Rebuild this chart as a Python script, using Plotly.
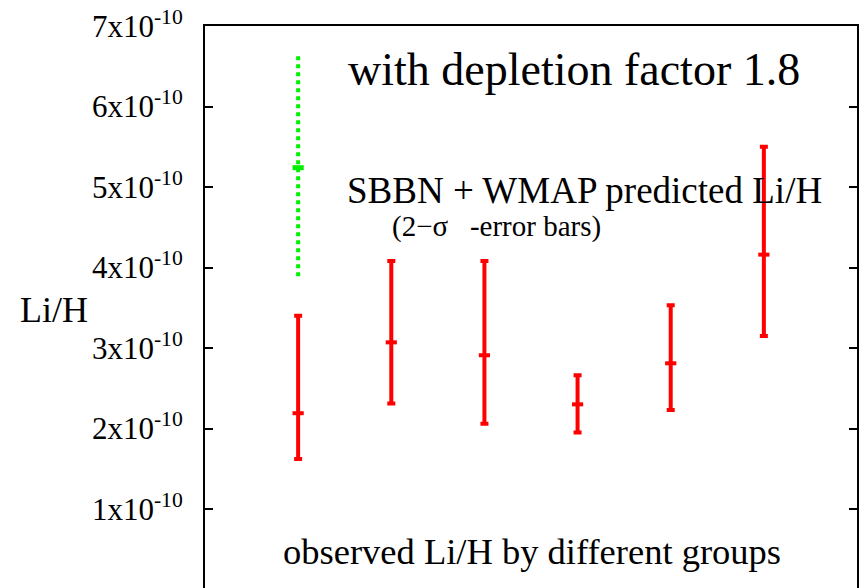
import plotly.graph_objects as go

# ---- data (values of Li/H) ----
groups = [1, 2, 3, 4, 5, 6]
obs_center = [2.19e-10, 3.07e-10, 2.91e-10, 2.30e-10, 2.81e-10, 4.16e-10]
obs_high = [3.40e-10, 4.08e-10, 4.08e-10, 2.66e-10, 3.53e-10, 5.50e-10]
obs_low = [1.62e-10, 2.31e-10, 2.06e-10, 1.95e-10, 2.23e-10, 3.15e-10]

pred_x = [1]
pred_center = [5.24e-10]
pred_high = [6.66e-10]
pred_low = [3.89e-10]

ytick_vals = [1e-10, 2e-10, 3e-10, 4e-10, 5e-10, 6e-10, 7e-10]
ytick_text = ["1x10<sup>-10</sup>", "2x10<sup>-10</sup>", "3x10<sup>-10</sup>",
              "4x10<sup>-10</sup>", "5x10<sup>-10</sup>", "6x10<sup>-10</sup>",
              "7x10<sup>-10</sup>"]

FONT = "Times New Roman, Liberation Serif, serif"
RED = "#ff0000"
GREEN = "#00f000"

fig = go.Figure()

# observed values with asymmetric error bars
fig.add_trace(go.Scatter(
    x=groups, y=obs_center, mode="markers",
    marker=dict(symbol="line-ew", size=8, line=dict(color=RED, width=4), color=RED),
    error_y=dict(type="data", symmetric=False,
                 array=[h - c for h, c in zip(obs_high, obs_center)],
                 arrayminus=[c - l for c, l in zip(obs_center, obs_low)],
                 color=RED, thickness=4, width=4),
    showlegend=False, hoverinfo="skip",
))

# predicted value: dotted green error bar
for x, c, lo, hi in zip(pred_x, pred_center, pred_low, pred_high):
    fig.add_trace(go.Scatter(
        x=[x, x], y=[lo, hi], mode="lines",
        line=dict(color=GREEN, width=4, dash="dot"),
        showlegend=False, hoverinfo="skip",
    ))
    fig.add_trace(go.Scatter(
        x=[x], y=[c], mode="markers",
        marker=dict(symbol="line-ew", size=8, line=dict(color=GREEN, width=5), color=GREEN),
        showlegend=False, hoverinfo="skip",
    ))

annos = [
    dict(text="with depletion factor 1.8", x=1.515, y=6.46e-10, size=46),
    dict(text="SBBN + WMAP predicted Li/H", x=1.505, y=4.96e-10, size=37),
    dict(text="(2\u2212\u03c3\u00a0\u00a0\u00a0-error bars)", x=1.99, y=4.51e-10, size=29),
    dict(text="observed Li/H by different groups", x=0.82, y=0.47e-10, size=36.5),
]
for a in annos:
    fig.add_annotation(text=a["text"], x=a["x"], y=a["y"], xref="x", yref="y",
                       xanchor="left", yanchor="middle", showarrow=False,
                       font=dict(family=FONT, size=a["size"], color="black"))

fig.add_annotation(text="Li/H", x=-0.2316, y=3.47e-10, xref="paper", yref="y",
                   xanchor="center", yanchor="middle", showarrow=False,
                   font=dict(family=FONT, size=36, color="black"))

fig.update_layout(
    width=862, height=588,
    margin=dict(l=205, r=5, t=26, b=0),
    paper_bgcolor="white", plot_bgcolor="white",
    font=dict(family=FONT, color="black"),
    xaxis=dict(range=[0, 7], side="top", showline=True, linecolor="black", linewidth=2,
               mirror=False, showticklabels=False, ticks="", showgrid=False, zeroline=False),
    yaxis=dict(range=[0.0186e-10, 7e-10], tickvals=ytick_vals, ticktext=ytick_text,
               ticks="inside", ticklen=8, tickwidth=1.5, tickcolor="black",
               showline=True, linecolor="black", linewidth=2, mirror="ticks",
               showgrid=False, zeroline=False,
               tickfont=dict(family=FONT, size=31, color="black"),
               ticklabelstandoff=14),
)

fig.write_html("out.html")
